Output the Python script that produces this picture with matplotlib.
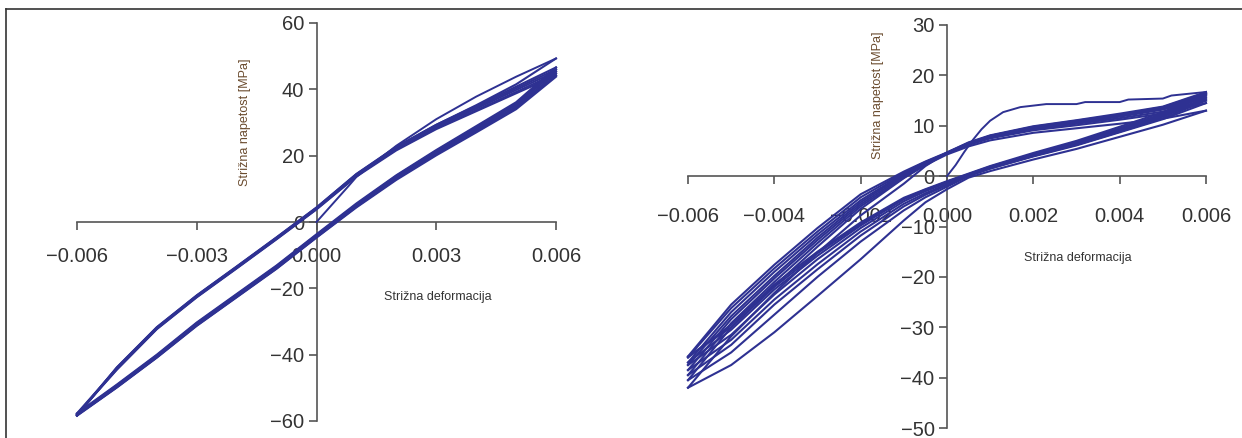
import matplotlib
matplotlib.use('Agg')
import matplotlib.pyplot as plt
from matplotlib.lines import Line2D

plt.rcParams['font.family'] = ['Liberation Sans', 'DejaVu Sans']

# ---- data: left panel (shear strain vs shear stress [MPa]) ----
left_up_strain = [-0.006, -0.005, -0.004, -0.003, -0.002, -0.001, 0.0,
                  0.001, 0.002, 0.003, 0.004, 0.005, 0.006]
left_down_strain = left_up_strain[::-1]
left_virgin_strain = [0.0, 0.0004, 0.0008, 0.001, 0.002, 0.003, 0.004, 0.005, 0.006]
left_virgin_stress = [0.0, 5.4, 10.8, 13.6, 23.0, 31.0, 37.8, 43.8, 49.3]
left_unload = [
    [49.3, 41.5, 35.2, 29.3, 22.6, 14.4, 4.3, -4.7, -13.5, -22.2, -31.8, -43.9, -58.3],
    [44.2, 38.8, 33.4, 28.0, 21.6, 13.7, 3.8, -5.2, -14.0, -22.7, -32.3, -44.5, -58.0],
    [45.4, 39.8, 34.2, 28.7, 22.2, 14.1, 4.1, -4.9, -13.7, -22.4, -32.0, -44.1, -57.7],
    [46.6, 40.8, 35.0, 29.3, 22.7, 14.5, 4.4, -4.6, -13.4, -22.1, -31.7, -43.8, -58.2],
    [44.8, 39.2, 33.7, 28.3, 21.9, 13.9, 3.9, -5.1, -13.9, -22.6, -32.2, -44.4, -57.9],
    [46.0, 40.3, 34.6, 29.0, 22.4, 14.3, 4.2, -4.8, -13.6, -22.3, -31.9, -44.0, -58.4],
]
left_load = [
    [-58.3, -49.8, -40.8, -31.2, -22.6, -14.0, -4.6, 4.6, 13.0, 20.4, 27.4, 34.4, 44.2],
    [-58.0, -49.4, -40.4, -30.7, -22.1, -13.5, -4.1, 5.1, 13.6, 21.1, 28.2, 35.3, 45.4],
    [-57.7, -49.0, -40.0, -30.3, -21.7, -13.1, -3.7, 5.6, 14.1, 21.7, 28.9, 36.1, 46.6],
    [-58.2, -49.7, -40.7, -31.0, -22.4, -13.8, -4.4, 4.8, 13.3, 20.8, 27.8, 34.8, 44.8],
    [-57.9, -49.2, -40.2, -30.5, -21.9, -13.3, -3.9, 5.3, 13.9, 21.4, 28.6, 35.7, 46.0],
    [-58.4, -49.9, -40.9, -31.3, -22.7, -14.1, -4.7, 4.4, 12.7, 20.1, 27.0, 34.0, 43.8],
]
left_xticks = [-0.006, -0.003, 0.0, 0.003, 0.006]
left_xticklabels = ['\u22120.006', '\u22120.003', '0.000', '0.003', '0.006']
left_yticks = [-60, -40, -20, 0, 20, 40, 60]
left_yticklabels = ['\u221260', '\u221240', '\u221220', '0', '20', '40', '60']

# ---- data: right panel ----
right_up_strain = [-0.006, -0.005, -0.004, -0.003, -0.002, -0.001, -0.0005, 0.0,
                   0.0005, 0.001, 0.002, 0.003, 0.004, 0.005, 0.006]
right_down_strain = right_up_strain[::-1]
right_virgin_strain = [0.0, 0.0002, 0.0004, 0.0006, 0.0008, 0.001, 0.0013, 0.0017,
                       0.0023, 0.003, 0.0032, 0.004, 0.0042, 0.005, 0.0052, 0.006]
right_virgin_stress = [0.0, 2.2, 4.8, 7.2, 9.3, 11.0, 12.7, 13.7,
                       14.3, 14.3, 14.7, 14.7, 15.2, 15.4, 16.0, 16.7]
right_unload = [
    [16.7, 13.8, 12.4, 11.1, 9.9, 8.1, 6.7, 4.7, 2.0, -1.5, -7.8, -15.2, -23.2, -31.8, -42.0],
    [13.0, 11.4, 10.4, 9.5, 8.6, 7.1, 5.9, 4.3, 2.2, -0.4, -6.5, -14.0, -21.8, -30.0, -40.5],
    [15.0, 12.8, 11.5, 10.4, 9.3, 7.6, 6.3, 4.5, 2.3, -0.3, -6.0, -13.3, -21.0, -29.2, -39.5],
    [15.6, 13.2, 11.8, 10.6, 9.5, 7.8, 6.4, 4.6, 2.5, 0.0, -5.6, -12.7, -20.3, -28.4, -38.5],
    [14.5, 12.4, 11.2, 10.1, 9.1, 7.5, 6.2, 4.5, 2.6, 0.3, -5.2, -12.2, -19.8, -27.8, -37.5],
    [16.0, 13.4, 12.0, 10.8, 9.6, 7.9, 6.5, 4.6, 2.7, 0.5, -4.8, -11.6, -19.0, -27.0, -37.0],
    [16.3, 13.6, 12.1, 10.9, 9.7, 8.0, 6.5, 4.6, 2.8, 0.7, -4.2, -11.0, -18.3, -26.2, -36.0],
    [16.5, 13.7, 12.2, 11.0, 9.8, 8.0, 6.6, 4.7, 2.9, 0.9, -3.6, -10.3, -17.6, -25.5, -35.8],
]
right_load = [
    [-42.0, -37.5, -31.0, -23.8, -16.5, -8.8, -5.2, -2.6, -0.3, 1.0, 3.3, 5.4, 7.8, 10.2, 13.0],
    [-40.5, -35.0, -27.5, -20.0, -13.0, -6.8, -4.2, -2.1, 0.0, 1.5, 4.0, 6.2, 8.8, 11.5, 15.0],
    [-39.5, -33.5, -25.5, -18.5, -11.8, -6.0, -3.7, -1.8, 0.2, 1.7, 4.2, 6.5, 9.2, 12.0, 15.6],
    [-38.5, -32.5, -24.5, -17.5, -11.0, -5.5, -3.4, -1.6, 0.1, 1.5, 3.9, 6.1, 8.7, 11.3, 14.5],
    [-37.5, -31.5, -23.5, -16.5, -10.3, -5.0, -3.0, -1.3, 0.3, 1.8, 4.3, 6.6, 9.3, 12.2, 16.0],
    [-37.0, -30.5, -22.5, -15.8, -9.8, -4.6, -2.8, -1.1, 0.4, 1.9, 4.4, 6.8, 9.5, 12.4, 16.3],
    [-36.0, -29.5, -21.5, -15.0, -9.2, -4.3, -2.6, -1.0, 0.5, 2.0, 4.6, 7.0, 9.8, 12.7, 16.5],
    [-35.8, -30.0, -22.0, -15.3, -9.5, -4.5, -2.7, -1.2, 0.3, 1.8, 4.1, 6.3, 9.0, 11.8, 15.3],
]
right_xticks = [-0.006, -0.004, -0.002, 0.0, 0.002, 0.004, 0.006]
right_xticklabels = ['\u22120.006', '\u22120.004', '\u22120.002', '0.000', '0.002', '0.004', '0.006']
right_yticks = [-50, -40, -30, -20, -10, 0, 10, 20, 30]
right_yticklabels = ['\u221250', '\u221240', '\u221230', '\u221220', '\u221210', '0', '10', '20', '30']

ylabel = 'Strižna napetost [MPa]'
xlabel = 'Strižna deformacija'

W, H = 1242, 438
LINE = '#2e3192'
AXC = '#555555'
TXT = '#333333'

fig = plt.figure(figsize=(W / 100, H / 100), dpi=100)
fig.patch.set_facecolor('white')


def px_rect(x0, x1, ytop, ybot):
    return [x0 / W, 1 - ybot / H, (x1 - x0) / W, (ybot - ytop) / H]


def style_axes(ax, xt, xtl, yt, ytl, xpad):
    for side in ['top', 'right']:
        ax.spines[side].set_visible(False)
    for side in ['left', 'bottom']:
        ax.spines[side].set_position(('data', 0))
        ax.spines[side].set_color(AXC)
        ax.spines[side].set_linewidth(1.2)
    ax.set_xticks(xt)
    ax.set_xticklabels(xtl)
    ax.set_yticks(yt)
    ax.set_yticklabels(ytl)
    ax.tick_params(axis='both', direction='out', length=6, width=1.2,
                   color=AXC, labelcolor=TXT, labelsize=14.5)
    ax.tick_params(axis='x', pad=xpad)
    ax.tick_params(axis='y', pad=3)
    ax.patch.set_alpha(0)


def draw_cycles(ax, vs, vy, up_s, down_s, unload, load):
    ax.plot(vs, vy, color=LINE, lw=1.4, clip_on=False, zorder=3)
    for u, l in zip(unload, load):
        ax.plot(down_s, u, color=LINE, lw=1.5, clip_on=False, zorder=3)
        ax.plot(up_s, l, color=LINE, lw=1.5, clip_on=False, zorder=3)


# left panel
ax1 = fig.add_axes(px_rect(77, 556, 23, 421))
ax1.set_xlim(-0.006, 0.006)
ax1.set_ylim(-60, 60)
draw_cycles(ax1, left_virgin_strain, left_virgin_stress, left_up_strain,
            left_down_strain, left_unload, left_load)
style_axes(ax1, left_xticks, left_xticklabels, left_yticks, left_yticklabels, 12)

# right panel
ax2 = fig.add_axes(px_rect(688, 1206, 25, 428))
ax2.set_xlim(-0.006, 0.006)
ax2.set_ylim(-50, 30)
draw_cycles(ax2, right_virgin_strain, right_virgin_stress, right_up_strain,
            right_down_strain, right_unload, right_load)
style_axes(ax2, right_xticks, right_xticklabels, right_yticks, right_yticklabels, 16)

# axis titles
lab = dict(family=['Liberation Sans Narrow', 'Liberation Sans', 'DejaVu Sans'], fontsize=9)
fig.text(245 / W, 1 - 122 / H, ylabel, rotation=90, ha='center', va='center',
         color='#6a4b2e', **lab)
fig.text(878 / W, 1 - 95 / H, ylabel, rotation=90, ha='center', va='center',
         color='#6a4b2e', **lab)
fig.text(438 / W, 1 - 297 / H, xlabel, ha='center', va='center', color=TXT, **lab)
fig.text(1078 / W, 1 - 258 / H, xlabel, ha='center', va='center', color=TXT, **lab)

# outer frame (top and left edges)
fig.add_artist(Line2D([6 / W, 1], [1 - 9 / H, 1 - 9 / H], color='#333333', lw=1.2))
fig.add_artist(Line2D([6 / W, 6 / W], [0, 1 - 9 / H], color='#333333', lw=1.2))

fig.savefig('out.png', dpi=100)
